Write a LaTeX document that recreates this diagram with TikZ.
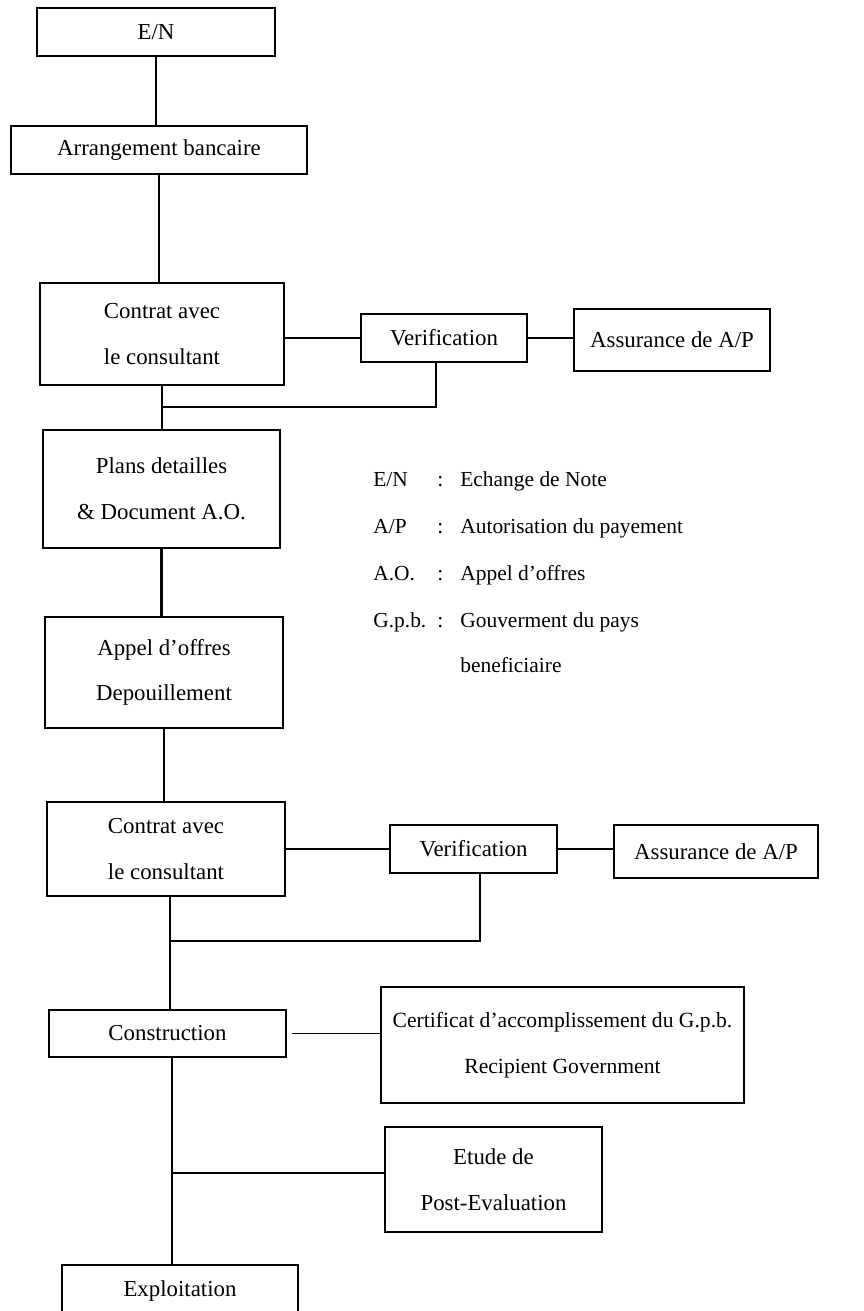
\documentclass[tikz,border=0pt]{standalone}
\usepackage{fontspec}
\setmainfont{Liberation Serif}
\usepackage{tikz}

\begin{document}
\begin{tikzpicture}[x=0.02cm, y=-0.02cm,
    box/.style={draw, rectangle, line width=1pt, inner sep=0pt, align=center, font=\fontsize{13}{16}\selectfont},
    trunk/.style={line width=1.5pt},
    link/.style={line width=1pt},
    legend/.style={anchor=base west, inner sep=0pt, font=\fontsize{12.2}{15}\selectfont}]
    \useasboundingbox (0,0) rectangle (864,1311);

    % main column
    \node[box, minimum width=4.76cm, minimum height=0.96cm] (en) at (156,32) {E/N};
    \node[box, minimum width=5.92cm, minimum height=0.96cm] (arr) at (159,150) {Arrangement bancaire};
    \node[box, minimum width=4.88cm, minimum height=2.04cm] (c1) at (162,334) {Contrat avec\\[10pt] le consultant};
    \node[box, minimum width=4.74cm, minimum height=2.36cm] (plans) at (161.5,489) {Plans detailles\\[10pt] \& Document A.O.};
    \node[box, minimum width=4.76cm, minimum height=2.22cm] (appel) at (164,672.5) {Appel d'offres\\[10pt] Depouillement};
    \node[box, minimum width=4.76cm, minimum height=1.88cm] (c2) at (166,849) {Contrat avec\\[10pt] le consultant};
    \node[box, minimum width=4.74cm, minimum height=0.94cm] (constr) at (167.5,1033.5) {Construction};
    \node[box, minimum width=4.72cm, minimum height=1.40cm, text depth=0.45cm] (expl) at (180,1300) {Exploitation};

    % side boxes
    \node[box, minimum width=3.32cm, minimum height=0.96cm] (v1) at (444,338) {Verification};
    \node[box, minimum width=3.92cm, minimum height=1.24cm] (a1) at (672,340) {Assurance de A/P};
    \node[box, minimum width=3.34cm, minimum height=0.96cm] (v2) at (473.5,849) {Verification};
    \node[box, minimum width=4.08cm, minimum height=1.06cm] (a2) at (716,851.5) {Assurance de A/P};
    \node[box, minimum width=7.26cm, minimum height=2.32cm, font=\fontsize{12.3}{15}\selectfont] (cert) at (562.5,1045) {Certificat d'accomplissement du G.p.b.\\[11pt] Recipient Government};
    \node[box, minimum width=4.34cm, minimum height=2.10cm] (etude) at (493.5,1179.5) {Etude de\\[10pt] Post-Evaluation};

    % legend
    \node[legend] (k1) at (373,486) {E/N};
    \node[legend] (k2) at (373,533) {A/P};
    \node[legend] (k3) at (373,580) {A.O.};
    \node[legend] (k4) at (373,627) {G.p.b.};
    \node[legend] (s1) at (437,486) {:};
    \node[legend] (s2) at (437,533) {:};
    \node[legend] (s3) at (437,580) {:};
    \node[legend] (s4) at (437,627) {:};
    \node[legend] (d1) at (460,486) {Echange de Note};
    \node[legend] (d2) at (460,533) {Autorisation du payement};
    \node[legend] (d3) at (460,580) {Appel d'offres};
    \node[legend] (d4) at (460,627) {Gouverment du pays};
    \node[legend] (d5) at (460,672) {beneficiaire};

    \coordinate (j1) at (163,407);
    \coordinate (j2) at (170,941);
    \coordinate (j3) at (172,1173);

    \draw[trunk] (en.south) -- (en.south |- arr.north);
    \draw[trunk] (arr.south) -- (arr.south |- c1.north);
    \draw[trunk] (c1.south) -- (c1.south |- plans.north);
    \draw[trunk] (plans.south) -- (plans.south |- appel.north);
    \draw[trunk] (appel.south) -- (appel.south |- c2.north);
    \draw[trunk] (c2.south -| j2) -- (j2 |- constr.north);
    \draw[trunk] (constr.south -| j3) -- (j3 |- expl.north);

    \draw[link] (c1.east |- v1.west) -- (v1.west);
    \draw[link] (v1.east) -- (v1.east -| a1.west);
    \draw[link] (v1.south -| 436,0) |- (j1);
    \draw[link] (c2.east |- v2.west) -- (v2.west);
    \draw[link] (v2.east) -- (v2.east -| a2.west);
    \draw[link] (v2.south -| 480,0) |- (j2);
    \draw[link] (constr.east) ++(5,0) -- (constr.east -| cert.west);
    \draw[link] (j3) -- (j3 -| etude.west);
\end{tikzpicture}
\end{document}
